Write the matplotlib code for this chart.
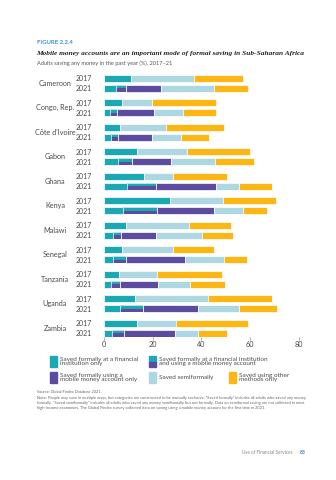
import matplotlib
matplotlib.use("Agg")
import matplotlib.pyplot as plt
import numpy as np

plt.rcParams['font.family'] = ['Lato', 'DejaVu Sans']

countries = ['Cameroon', 'Congo, Rep.', "Côte d'Ivoire", 'Gabon', 'Ghana', 'Kenya',
             'Malawi', 'Senegal', 'Tanzania', 'Uganda', 'Zambia']
years = ['2017', '2021']

# 2017 (no mobile money question that year)
inst17 = [11.0, 7.3, 6.4, 13.4, 16.3, 27.0, 8.9, 7.3, 6.2, 12.7, 13.7]
semi17 = [26.1, 12.5, 19.1, 20.6, 12.0, 22.0, 26.1, 20.9, 15.6, 30.0, 15.9]
other17 = [20.1, 26.1, 23.7, 26.0, 22.2, 21.6, 17.0, 17.0, 26.8, 26.2, 29.4]

# 2021
inst21 = [4.9, 2.6, 3.0, 5.6, 9.3, 7.9, 3.6, 3.6, 2.9, 6.7, 3.2]
both21 = [4.0, 2.9, 2.9, 5.8, 11.9, 13.7, 3.2, 5.3, 3.5, 9.4, 4.9]
mobile21 = [14.6, 14.9, 13.7, 16.1, 24.7, 23.6, 14.6, 24.2, 15.8, 22.6, 20.9]
semi21 = [21.7, 12.2, 11.9, 18.0, 9.7, 11.9, 18.8, 16.2, 13.0, 16.6, 9.7]
other21 = [14.1, 13.2, 11.5, 16.2, 13.3, 10.0, 12.8, 9.4, 14.5, 15.9, 11.7]

teal = '#1aa8b3'
purple = '#5b4c9f'
light = '#add8e1'
yellow = '#fdb714'
grey = '#4a4a4a'

W, H = 336, 480
fig = plt.figure(figsize=(W / 100, H / 100), dpi=100)


def fx(x):
    return x / W


def fy(y):
    return 1 - y / H


# header
fig.text(fx(37), fy(43), 'FIGURE 2.2.4', color='#3a8fd0', fontsize=4.3,
         fontweight='bold', va='center')
fig.text(fx(36), fy(54), 'Mobile money accounts are an important mode of formal saving in Sub-Saharan Africa',
         family='Liberation Serif', style='italic', fontweight='bold', fontsize=5.3,
         color='#222222', va='center')
fig.text(fx(37), fy(63), 'Adults saving any money in the past year (%), 2017\u201321',
         fontsize=4.1, color='#555555', va='center')

# chart
ax = fig.add_axes([fx(104), fy(337), fx(298.8) - fx(104), fy(72) - fy(337)])
n = len(countries)
y17 = 78.3 + 24.5 * np.arange(n)
y21 = y17 + 9.9
h = 7.2
ew = 0.5

left = np.zeros(n)
for vals, c in [(inst17, teal), (semi17, light), (other17, yellow)]:
    ax.barh(y17, vals, left=left, height=h, color=c, edgecolor='white', linewidth=ew)
    left += np.array(vals)

left = np.zeros(n)
ax.barh(y21, inst21, left=left, height=h, color=teal, edgecolor='white', linewidth=ew)
left += np.array(inst21)
# both: top half teal, bottom half purple
ax.barh(y21 - h / 4, both21, left=left, height=h / 2, color=teal, linewidth=0)
ax.barh(y21 + h / 4, both21, left=left, height=h / 2, color=purple, linewidth=0)
ax.barh(y21, both21, left=left, height=h, color='none', edgecolor='white', linewidth=ew)
left += np.array(both21)
for vals, c in [(mobile21, purple), (semi21, light), (other21, yellow)]:
    ax.barh(y21, vals, left=left, height=h, color=c, edgecolor='white', linewidth=ew)
    left += np.array(vals)

ax.set_xlim(0, 80)
ax.set_ylim(337, 72)
ax.set_xticks([0, 20, 40, 60, 80])
ax.tick_params(axis='x', length=2, width=0.5, color='#888888', labelsize=5.2,
               labelcolor=grey, pad=1.2)
yt = np.ravel(np.column_stack([y17, y21]))
ax.set_yticks(yt)
ax.set_yticklabels(years * n)
ax.tick_params(axis='y', length=0, labelsize=5.0, labelcolor=grey, pad=9)
for s in ax.spines.values():
    s.set_visible(False)
for i, name in enumerate(countries):
    fig.text(fx(55), fy((y17[i] + y21[i]) / 2), name, ha='center', va='center',
             fontsize=5.2, color=grey)

# legend
def swatch(x, y, c1, c2=None):
    if c2 is None:
        fig.patches.append(plt.Rectangle((fx(x), fy(y + 11)), fx(7), 11 / H,
                                         transform=fig.transFigure, color=c1))
    else:
        fig.patches.append(plt.Rectangle((fx(x), fy(y + 5.5)), fx(7), 5.5 / H,
                                         transform=fig.transFigure, color=c1))
        fig.patches.append(plt.Rectangle((fx(x), fy(y + 11)), fx(7), 5.5 / H,
                                         transform=fig.transFigure, color=c2))


leg_items = [
    (50, 356, teal, None, 'Saved formally at a financial\ninstitution only'),
    (149, 356, teal, purple, 'Saved formally at a financial institution\nand using a mobile money account'),
    (50, 372, purple, None, 'Saved formally using a\nmobile money account only'),
    (149, 372, light, None, 'Saved semiformally'),
    (229, 372, yellow, None, 'Saved using other\nmethods only'),
]
for x, y, c1, c2, label in leg_items:
    swatch(x, y, c1, c2)
    fig.text(fx(x + 10), fy(y + 5.5), label, fontsize=4.6, color=grey,
             va='center', linespacing=1.0)

# source and notes
fig.text(fx(37), fy(392), 'Source: Global Findex Database 2021.', fontsize=2.8,
         color='#666666', va='center')
note = ('Note: People may save in multiple ways, but categories are constructed to be mutually exclusive. \u201cSaved formally\u201d includes all adults who saved any money\n'
        'formally. \u201cSaved semiformally\u201d includes all adults who saved any money semiformally but not formally. Data on semiformal saving are not collected in most\n'
        'high-income economies. The Global Findex survey collected data on saving using a mobile money account for the first time in 2021.')
fig.text(fx(37), fy(396), note, fontsize=2.85, color='#666666', va='top', linespacing=1.25)

# footer
fig.text(fx(293), fy(453), 'Use of Financial Services', fontsize=3.3, color='#888888',
         ha='right', va='center')
fig.text(fx(300), fy(453), '83', fontsize=3.6, color='#3a7fc0', fontweight='bold',
         va='center')

fig.savefig('out.png', dpi=100)
